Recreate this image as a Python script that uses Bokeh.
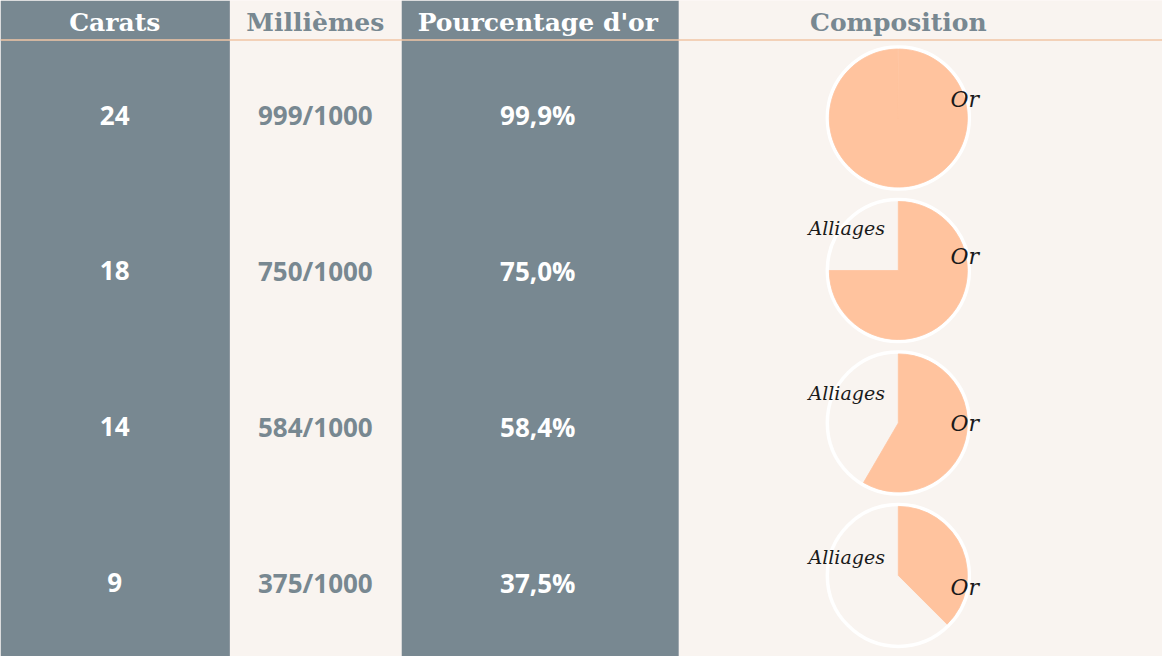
import math
from bokeh.plotting import figure
from bokeh.models import Range1d
from bokeh.embed import file_html
from bokeh.resources import INLINE
from bokeh.core.properties import value

# ---------------- data ----------------
headers = ["Carats", "Millièmes", "Pourcentage d'or", "Composition"]
carats = ["24", "18", "14", "9"]
milliemes = ["999/1000", "750/1000", "584/1000", "375/1000"]
pourcentages = ["99,9%", "75,0%", "58,4%", "37,5%"]
slice_names = ["Or", "Alliages"]

gold = [int(m.split("/")[0]) / 1000 for m in milliemes]

# ---------------- style / layout ----------------
GRAY = "#788891"
CREAM = "#f9f4f0"
PEACH = "#ffc39e"
WHITE = "#ffffff"
LINE = "#f0c6a6"

col_edges = [0, 231, 404, 683, 1170]
col_fill = [GRAY, CREAM, GRAY, CREAM]
header_color = [WHITE, GRAY, WHITE, GRAY]
body_color = [WHITE, GRAY, WHITE]
pie_x = 904
text_x = [115, 317, 541, pie_x]

n = len(carats)
row_y = [-(116 + i * 157.7) for i in range(n)]
pie_y = [-(119 + i * 154.3) for i in range(n)]
or_dy = [19, 14, -1, -12]
al_dy = [43, 43, 30, 19]

p = figure(width=1162, height=656, x_range=Range1d(0, 1170), y_range=Range1d(-664, 0),
           output_backend="svg", toolbar_location=None, min_border=0)
p.axis.visible = False
p.grid.visible = False
p.outline_line_color = None
p.background_fill_color = CREAM
p.border_fill_color = CREAM

# column bands
p.quad(left=col_edges[:-1], right=col_edges[1:], top=[0] * 4, bottom=[-700] * 4,
       fill_color=col_fill, line_color=None)

# header rule
p.segment(x0=[0], x1=[1170], y0=[-40], y1=[-40], line_color=LINE, line_width=1.5)

# headers
p.text(x=text_x, y=[-22] * 4, text=headers, text_align="center", text_baseline="middle",
       text_font=value("DejaVu Serif"), text_font_style="bold", text_font_size="25px",
       text_color=header_color)

# body columns
for ci, col in enumerate([carats, milliemes, pourcentages]):
    p.text(x=[text_x[ci]] * n, y=row_y, text=col, text_align="center", text_baseline="middle",
           text_font=value("Open Sans"), text_font_style="bold", text_font_size="26px",
           text_color=body_color[ci])

# pies
p.circle(x=[pie_x] * n, y=pie_y, radius=71, radius_units="screen",
         fill_color=None, line_color=WHITE, line_width=3.5)
p.wedge(x=[pie_x] * n, y=pie_y, radius=69, radius_units="screen",
        start_angle=[math.pi / 2] * n,
        end_angle=[math.pi / 2 - 2 * math.pi * g for g in gold],
        direction="clock", fill_color=PEACH, line_color=PEACH, line_width=0.8)

# slice labels
p.text(x=[pie_x + 67] * n, y=[pie_y[i] + or_dy[i] for i in range(n)], text=[slice_names[0]] * n,
       text_align="center", text_baseline="middle", text_font=value("DejaVu Serif"),
       text_font_style="italic", text_font_size="22px", text_color="#1a1a1a")
al_rows = [i for i in range(n) if 1 - gold[i] > 0.01]
p.text(x=[pie_x - 52] * len(al_rows), y=[pie_y[i] + al_dy[i] for i in al_rows],
       text=[slice_names[1]] * len(al_rows),
       text_align="center", text_baseline="middle", text_font=value("DejaVu Serif"),
       text_font_style="italic", text_font_size="19px", text_color="#1a1a1a")

open("out.html", "w").write(file_html(p, INLINE))
